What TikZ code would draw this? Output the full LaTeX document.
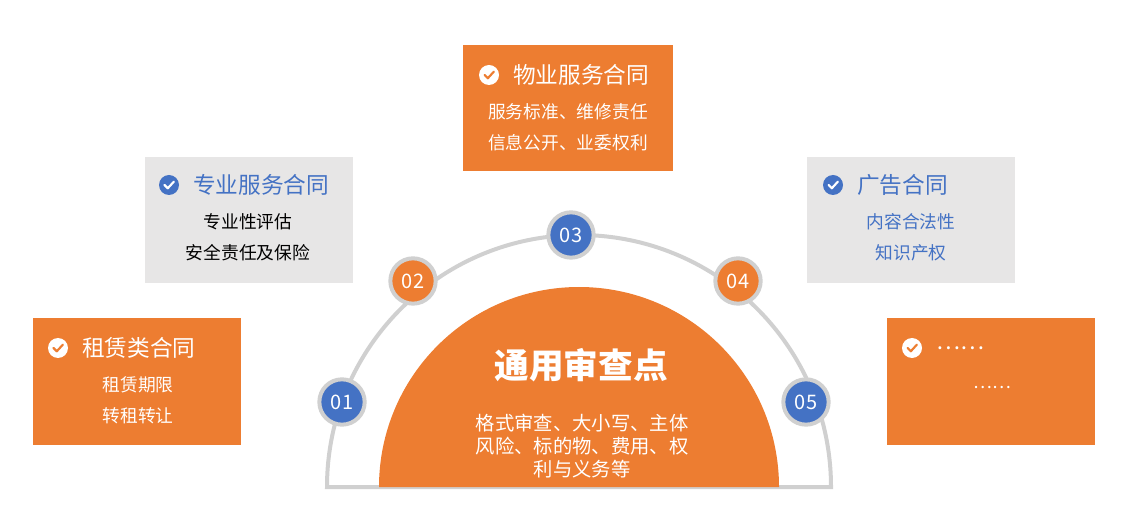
\documentclass[tikz,border=0pt]{standalone}
\usepackage{fontspec}
\usetikzlibrary{calc}
\setmainfont{Noto Sans CJK SC}
\definecolor{org}{HTML}{ED7D31}
\definecolor{blu}{HTML}{4472C4}
\definecolor{gry}{HTML}{E7E6E6}
\definecolor{rng}{HTML}{D0D0D0}
\newcommand\chk[3]{\fill[#2] (#1) circle (7.5pt);
  \draw[#3,line width=1.6pt,line cap=round,line join=round] ($(#1)+(-4.5,0)$) -- ($(#1)+(-1.2,3.3)$) -- ($(#1)+(4.8,-3.3)$);}
\begin{document}
\begin{tikzpicture}[x=0.75pt,y=-0.75pt,
  num/.style={circle,draw=rng,line width=3pt,minimum size=34pt,inner sep=0pt,text=white,font=\fontsize{15}{15}\selectfont},
  ttl/.style={font=\fontsize{17}{18}\selectfont,anchor=west,inner sep=0pt},
  bdy/.style={font=\fontsize{13.3}{23}\selectfont,align=center}]
\useasboundingbox (0,0) rectangle (1123,530);
% arc
\draw[rng,line width=3pt] (327,487) arc[start angle=180,end angle=360,radius=252] -- cycle;
\fill[org] (379,487) arc[start angle=180,end angle=360,radius=200] -- cycle;
\node[text=white,font=\fontsize{26}{26}\selectfont\bfseries] (main) at (581,365) {通用审查点};
\node[align=center,text=white,font=\fontsize{14.5}{17.5}\selectfont] (mainb) at (582,446) {格式审查、大小写、主体\\风险、标的物、费用、权\\利与义务等};
% numbers
\node[num,fill=blu] (n1) at (342,402) {01};
\node[num,fill=org] (n2) at (413,281) {02};
\node[num,fill=blu] (n3) at (571,235) {03};
\node[num,fill=org] (n4) at (738,281) {04};
\node[num,fill=blu] (n5) at (806,402) {05};
% boxes
\fill[org] (463,45) rectangle (673,171);
\fill[gry] (145,157) rectangle (353,283);
\fill[gry] (807,157) rectangle (1015,283);
\fill[org] (33,318) rectangle (241,445);
\fill[org] (887,318) rectangle (1095,445);
\coordinate (c3) at (489,75); \coordinate (c2) at (169,185); \coordinate (c4) at (833,185);
\coordinate (c1) at (58,348); \coordinate (c5) at (912,348);
\chk{c3}{white}{org} \chk{c2}{blu}{white} \chk{c4}{blu}{white} \chk{c1}{white}{org} \chk{c5}{white}{org}
\node[ttl,text=white] (t3) at (513,75) {物业服务合同};
\node[ttl,text=blu] (t2) at (193,185) {专业服务合同};
\node[ttl,text=blu] (t4) at (857,185) {广告合同};
\node[ttl,text=white] (t1) at (82,348) {租赁类合同};
\node[ttl,text=white] (t5) at (936,348) {……};
\node[bdy,text=white] (b3) at (568,127) {服务标准、维修责任\\信息公开、业委权利};
\node[bdy,text=black] (b2) at (248,237) {专业性评估\\安全责任及保险};
\node[bdy,text=blu] (b4) at (911,237) {内容合法性\\知识产权};
\node[bdy,text=white] (b1) at (138,400) {租赁期限\\转租转让};
\node[bdy,text=white] (b5) at (992,387) {……};
\end{tikzpicture}
\end{document}
